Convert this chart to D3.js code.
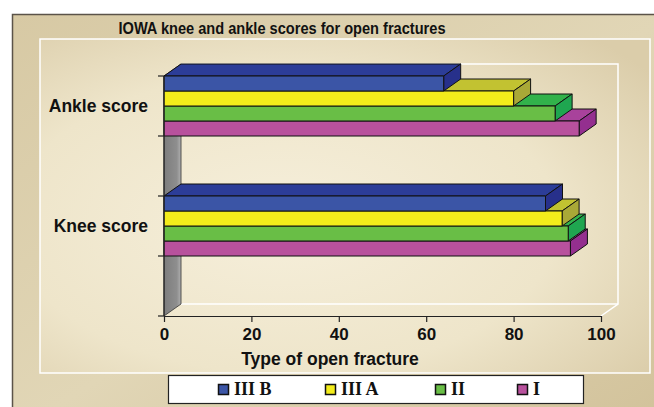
<!DOCTYPE html>
<html><head><meta charset="utf-8">
<script src="https://cdn.jsdelivr.net/npm/d3@7"></script>
<style>body{margin:0;background:#fff}svg{display:block}</style>
</head><body>
<svg id="chart" width="654" height="407"></svg>
<script>
// ---- data ----
const title = "IOWA knee and ankle scores for open fractures";
const categories = ["Ankle score", "Knee score"];
const seriesNames = ["III B", "III A", "II", "I"];
const ankleValues = [64, 80, 89.5, 95];
const kneeValues = [87.3, 91.1, 92.5, 93];
const xTicks = [0, 20, 40, 60, 80, 100];
const xTitle = "Type of open fracture";

// ---- styles ----
const frontColors = ["#3b55a6", "#f3ec1b", "#69be46", "#b8519d"];
const topColors   = ["#2c3d98", "#c2c231", "#32b24b", "#a8429b"];
const sideColors  = ["#27308b", "#a9a837", "#1fa650", "#942f8f"];

const svg = d3.select("#chart");
const defs = svg.append("defs");

const g1 = defs.append("linearGradient").attr("id","outerG").attr("x1","0").attr("y1","0").attr("x2","1").attr("y2","1");
g1.append("stop").attr("offset","0").attr("stop-color","#d7c9a4");
g1.append("stop").attr("offset","0.5").attr("stop-color","#e1d6b6");
g1.append("stop").attr("offset","1").attr("stop-color","#d1c199");

const g2 = defs.append("radialGradient").attr("id","innerG").attr("cx","0.4").attr("cy","0.55").attr("r","0.75");
g2.append("stop").attr("offset","0").attr("stop-color","#f6efdb");
g2.append("stop").attr("offset","0.6").attr("stop-color","#eee5ca");
g2.append("stop").attr("offset","1").attr("stop-color","#dbcdaa");

const g3 = defs.append("linearGradient").attr("id","wallG").attr("x1","0").attr("y1","0").attr("x2","1").attr("y2","0");
g3.append("stop").attr("offset","0").attr("stop-color","#7d7d7d");
g3.append("stop").attr("offset","0.75").attr("stop-color","#8e8e8e");
g3.append("stop").attr("offset","1").attr("stop-color","#b0b0b0");

// frames
svg.append("rect").attr("x",12.5).attr("y",14.5).attr("width",660).attr("height",420)
  .attr("fill","url(#outerG)").attr("stroke","#5b5349").attr("stroke-width",1.5);
svg.append("rect").attr("x",40).attr("y",39).attr("width",610).attr("height",334)
  .attr("fill","url(#innerG)").attr("stroke","#ffffff").attr("stroke-width",1.5);

svg.append("text").attr("x",282).attr("y",34).attr("text-anchor","middle")
  .attr("font-family","Liberation Sans, Arial, sans-serif").attr("font-weight","bold")
  .attr("font-size",16).attr("textLength",327).attr("lengthAdjust","spacingAndGlyphs")
  .attr("fill","#111").text(title);

// scales
const x = d3.scaleLinear().domain([0, 100]).range([164, 601]);
const y = d3.scaleBand().domain(categories).range([76, 316]).paddingInner(0);
const ySub = d3.scaleBand().domain(seriesNames).range([0, y.bandwidth()/2]);
const dx = 17, dy = 12;
const x0 = x(0), yBottom = y.range()[1], yTop = y.range()[0];

// back wall & floor
svg.append("path")
  .attr("d", `M${x0+dx},${yTop-dy} L${x(100)+dx},${yTop-dy} L${x(100)+dx},${yBottom-dy} L${x(100)},${yBottom}`)
  .attr("fill","none").attr("stroke","#ffffff").attr("stroke-width",1.5);
svg.append("path")
  .attr("d", `M${x0+dx},${yBottom-dy} L${x(100)+dx},${yBottom-dy}`)
  .attr("fill","none").attr("stroke","#ffffff").attr("stroke-width",1.5);
// left side wall
svg.append("path")
  .attr("d", `M${x0},${yTop} L${x0+dx},${yTop-dy} L${x0+dx},${yBottom-dy} L${x0},${yBottom} Z`)
  .attr("fill","url(#wallG)").attr("stroke","#333").attr("stroke-width",0.8);

// bars
const valuesByCat = {"Ankle score": ankleValues, "Knee score": kneeValues};
categories.forEach(cat => {
  const vals = valuesByCat[cat];
  // draw bottom bar first
  for (let i = seriesNames.length - 1; i >= 0; i--) {
    const s = seriesNames[i];
    const y0 = y(cat) + ySub(s), y1 = y0 + ySub.bandwidth();
    const x1 = x(vals[i]);
    const gb = svg.append("g").attr("stroke","#111").attr("stroke-width",1).attr("stroke-linejoin","round");
    gb.append("path").attr("d",`M${x0},${y0} L${x0+dx},${y0-dy} L${x1+dx},${y0-dy} L${x1},${y0} Z`).attr("fill",topColors[i]);
    gb.append("path").attr("d",`M${x1},${y0} L${x1+dx},${y0-dy} L${x1+dx},${y1-dy} L${x1},${y1} Z`).attr("fill",sideColors[i]);
    gb.append("rect").attr("x",x0).attr("y",y0).attr("width",x1-x0).attr("height",y1-y0).attr("fill",frontColors[i]);
  }
});

// y axis
const yTickPos = [];
categories.forEach(c => { yTickPos.push(y(c)); yTickPos.push(y(c) + y.bandwidth()/2); });
yTickPos.push(yBottom);
svg.append("line").attr("x1",x0).attr("x2",x0).attr("y1",yTop).attr("y2",yBottom).attr("stroke","#222").attr("stroke-width",1.2);
svg.selectAll(".ytick").data(yTickPos).enter().append("line")
  .attr("x1",x0-6).attr("x2",x0).attr("y1",d=>d).attr("y2",d=>d).attr("stroke","#222").attr("stroke-width",1.2);
svg.selectAll(".ylab").data(categories).enter().append("text")
  .attr("x",148).attr("y",c => y(c) + y.bandwidth()/4 + 6).attr("text-anchor","end")
  .attr("font-family","Liberation Sans, Arial, sans-serif").attr("font-weight","bold")
  .attr("font-size",17.5).attr("fill","#111").text(c=>c);

// x axis
const xAxis = svg.append("g").attr("transform",`translate(0,${yBottom})`)
  .call(d3.axisBottom(x).tickValues(xTicks).tickSize(6).tickSizeOuter(0).tickPadding(6));
xAxis.select(".domain").attr("stroke","#222").attr("stroke-width",1.2);
xAxis.selectAll(".tick line").attr("stroke","#222").attr("stroke-width",1.2);
xAxis.selectAll(".tick text").attr("font-family","Liberation Sans, Arial, sans-serif")
  .attr("font-weight","bold").attr("font-size",17).attr("fill","#111");

svg.append("text").attr("x",330).attr("y",365).attr("text-anchor","middle")
  .attr("font-family","Liberation Sans, Arial, sans-serif").attr("font-weight","bold")
  .attr("font-size",17.5).attr("fill","#111").text(xTitle);

// legend
const legendX = [218, 325, 435, 517];
svg.append("rect").attr("x",168.5).attr("y",375.5).attr("width",415).attr("height",28)
  .attr("fill","#ffffff").attr("stroke","#222").attr("stroke-width",1.2);
const lg = svg.selectAll(".lg").data(seriesNames).enter().append("g");
lg.append("rect").attr("x",(d,i)=>legendX[i]+0.5).attr("y",384.5).attr("width",10).attr("height",10)
  .attr("fill",(d,i)=>frontColors[i]).attr("stroke","#111").attr("stroke-width",1.5);
lg.append("text").attr("x",(d,i)=>legendX[i]+16).attr("y",394.5)
  .attr("font-family","Liberation Serif, Times New Roman, serif").attr("font-weight","bold")
  .attr("font-size",18).attr("fill","#111").text(d=>d);
</script>
</body></html>
